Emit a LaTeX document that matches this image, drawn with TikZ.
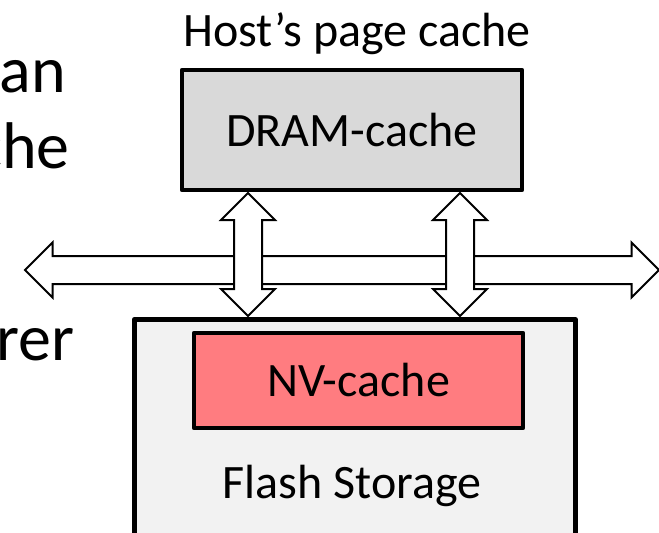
\documentclass[tikz,border=0pt]{standalone}
\usepackage{fontspec}
\setmainfont{Carlito}
\usetikzlibrary{shapes.arrows}
\definecolor{dramfill}{HTML}{D9D9D9}
\definecolor{flashfill}{HTML}{F2F2F2}
\definecolor{nvfill}{HTML}{FF7C80}
\tikzset{
  box/.style={draw=black, line width=4.5pt, inner sep=0pt, line join=round},
  label/.style={font=\fontsize{48}{58}\selectfont, inner sep=0pt},
  slidetext/.style={font=\fontsize{66}{80}\selectfont, inner sep=0pt, anchor=base east},
  bus/.style={double arrow, draw=black, fill=white, line width=2pt,
    double arrow head extend=13pt, double arrow tip angle=90,
    inner xsep=0pt, inner ysep=13pt},
}
\begin{document}
\begin{tikzpicture}[x=1pt,y=-1pt]
  \useasboundingbox (0,0) rectangle (659,533);
  \clip (0,0) rectangle (659,533);

  % fragments of the surrounding slide text
  \node[slidetext] (t1) at (66,92) {an};
  \node[slidetext] (t2) at (70,168) {che};
  \node[slidetext] (t3) at (75,360) {rer};

  % host side
  \node[label, anchor=base] (host) at (357,46) {Host’s page cache};
  \node[box, fill=dramfill, minimum width=340pt, minimum height=120pt] (dram) at (352,130) {};
  \node[label] at (dram.center) {DRAM-cache};

  % storage device
  \node[box, fill=flashfill, minimum width=441pt, minimum height=260pt, anchor=north west] (flash) at (132,317) {};
  \node[box, fill=nvfill, minimum width=329pt, minimum height=95pt] (nv) at (358.5,380.5) {};
  \node[label] at (nv.center) {NV-cache};
  \node[label] (fs) at (352,486) {Flash Storage};

  % system bus
  \node[bus, minimum height=634pt, double arrow head extend=13.5pt] (sysbus) at (342,270) {};

  % links between the caches and the bus
  \node[bus, rotate=90, minimum height=123pt] (linkA) at (248,254.5) {};
  \node[bus, rotate=90, minimum height=123pt] (linkB) at (460,254.5) {};
\end{tikzpicture}
\end{document}
